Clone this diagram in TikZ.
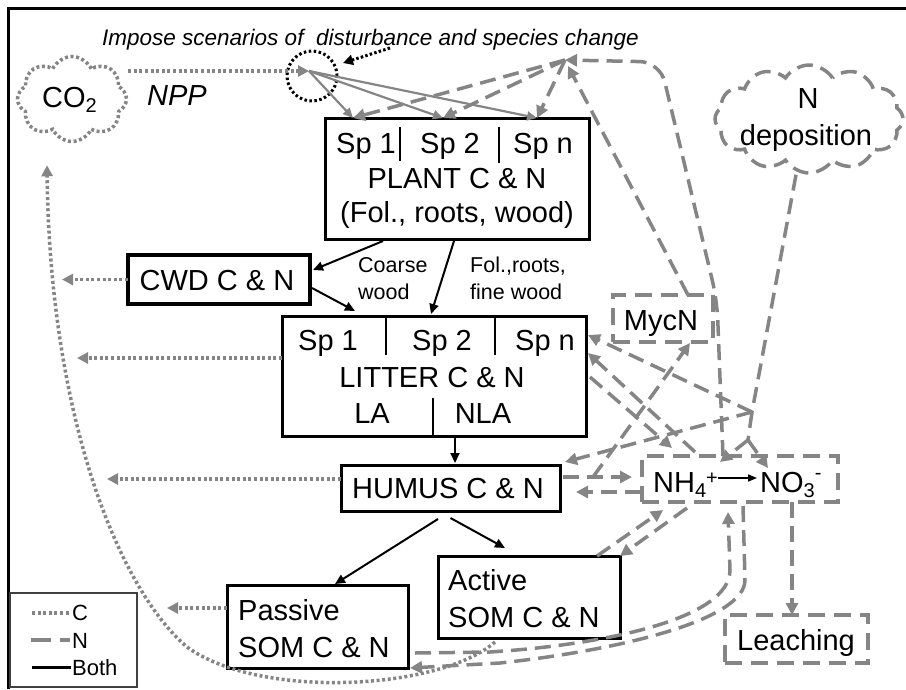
\documentclass[tikz,border=0pt]{standalone}
\usepackage{fontspec}
\setmainfont{Liberation Sans}
\usetikzlibrary{arrows.meta,shapes.symbols,calc}
\definecolor{ng}{RGB}{133,133,133}
\begin{document}
\begin{tikzpicture}[x=1pt,y=-1pt,
  bx/.style 2 args={draw=black,line width=3pt,minimum width=#1pt,minimum height=#2pt,inner sep=0pt,outer sep=0pt},
  nbx/.style 2 args={draw=ng,line width=3.5pt,dash pattern=on 17pt off 9pt,minimum width=#1pt,minimum height=#2pt,inner sep=0pt,outer sep=0pt},
  txt/.style={font=\fontsize{29}{34}\selectfont,inner sep=0pt,anchor=base},
  txtw/.style={txt,anchor=base west},
  smallt/.style={font=\fontsize{21.5}{26}\selectfont,inner sep=0pt,anchor=base west},
  cf/.style={draw=ng,line width=3.5pt,dash pattern=on 3pt off 2.6pt},
  cfa/.style={cf,-{Triangle[length=11pt,width=11pt]}},
  nf/.style={draw=ng,line width=3.5pt,dash pattern=on 16pt off 8pt},
  nfa/.style={nf,-{Triangle[length=12pt,width=12pt]}},
  bf/.style={draw=black,line width=2pt,-{Triangle[length=10pt,width=9pt]}},
  gs/.style={draw=ng,line width=2.2pt,-{Triangle[length=10pt,width=9pt]}},
  divline/.style={draw=black,line width=2.5pt}
]
\useasboundingbox (0,0) rectangle (906,689);
% outer frame
\draw[line width=3pt] (8,689) -- (8,8) -- (906,8);

% boxes
\node[bx={264}{121}] (plant) at (457,178.5) {};
\node[bx={182}{49},line width=4.5pt] (cwd) at (219,279.5) {};
\node[bx={304}{120}] (litter) at (434,376) {};
\node[bx={219}{46}] (humus) at (450.5,488) {};
\node[bx={181}{83}] (passive) at (317.5,626.5) {};
\node[bx={182}{82}] (active) at (529,597) {};
\node[nbx={100}{47}] (mycn) at (663,318.5) {};
\node[nbx={196}{46}] (nh) at (740,479) {};
\node[nbx={143}{48}] (leach) at (796.5,639) {};

% clouds and circle
\node[cloud,cloud puffs=8,cloud puff arc=130,cf,minimum width=109pt,minimum height=85pt,inner sep=0pt] (co2) at (72,99) {};
\node[cloud,cloud puffs=12,cloud puff arc=115,nf,minimum width=188pt,minimum height=108pt,inner sep=0pt] (ndep) at (809,119) {};
\node[circle,draw=black,line width=3pt,dash pattern=on 2.5pt off 2.5pt,minimum size=50pt,inner sep=0pt] (dist) at (312,76) {};

% dividers
\draw[divline] (400,127) -- (400,161);
\draw[divline] (499,127) -- (499,163);
\draw[divline] (386,316) -- (386,355);
\draw[divline] (495,316) -- (495,355);
\draw[divline] (433,398) -- (433,436);

% texts
\node[font=\fontsize{22.5}{27}\selectfont\itshape,inner sep=0pt,anchor=base west] (impose) at (102,45) {Impose scenarios of\ \ disturbance and species change};
\node[txtw] (co2t) at (42,107) {CO\raisebox{-5pt}{\fontsize{20}{20}\selectfont 2}};
\node[txtw,font=\fontsize{29}{34}\selectfont\itshape] (npp) at (147,105) {NPP};
\node[txt] (ndt) at (808,108) {N};
\node[txt] (ndt2) at (806,145) {deposition};

\node[txt] (p1) at (366,153) {Sp 1};
\node[txt] (p2) at (450,153) {Sp 2};
\node[txt] (p3) at (543,153) {Sp n};
\node[txt] (pl) at (457,188) {PLANT C \& N};
\node[txt] (pl2) at (457,222) {(Fol., roots, wood)};
\node[txt] (cwdt) at (217,290) {CWD C \& N};
\node[txt] (l1) at (328,350) {Sp 1};
\node[txt] (l2) at (442,350) {Sp 2};
\node[txt] (l3) at (545,350) {Sp n};
\node[txt] (lt) at (432,387) {LITTER C \& N};
\node[txt] (la) at (372,423) {LA};
\node[txt] (nla) at (483,423) {NLA};
\node[txt] (hu) at (448,498) {HUMUS C \& N};
\node[txtw] (pa1) at (238,620) {Passive};
\node[txtw] (pa2) at (238,657) {SOM C \& N};
\node[txtw] (ac1) at (448,590) {Active};
\node[txtw] (ac2) at (448,627) {SOM C \& N};
\node[txt] (myt) at (661,330) {MycN};
\node[txtw] (nh4t) at (653,492) {NH\raisebox{-5pt}{\fontsize{20}{20}\selectfont 4}\raisebox{7.5pt}{\fontsize{20}{20}\selectfont +}};
\node[txtw] (no3t) at (760,492) {NO\raisebox{-5pt}{\fontsize{20}{20}\selectfont 3}\raisebox{13pt}{\fontsize{20}{20}\selectfont -}};
\node[txt] (lea) at (796,650) {Leaching};
\node[smallt] (cs1) at (358,272) {Coarse};
\node[smallt] (cs2) at (358,299) {wood};
\node[smallt] (fs1) at (470,272) {Fol.,roots,};
\node[smallt] (fs2) at (470,299) {fine wood};

% coordinates
\coordinate (fan) at (309,71);
\coordinate (up) at (565,60);
\coordinate (s1) at (353,118);
\coordinate (s2) at (443,118);
\coordinate (s3) at (537,118);
\coordinate (J) at (752,412);
\coordinate (K) at (748,440);
\coordinate (cbend) at (187,647);
\coordinate (impa) at (390,48);

% black flows
\draw[bf] ($(plant.south)+(-74,2)$) -- ($(cwd.east)+(3,-9.5)$);
\draw[bf] ($(cwd.east)+(2,8.5)$) -- ($(litter.north)+(-79,-5)$);
\draw[bf] ($(plant.south)+(-3,2)$) -- ($(litter.north)+(-3,-2)$);
\draw[bf] ($(litter.south)+(21,2)$) -- ($(humus.north)+(4.5,-2)$);
\draw[bf] ($(humus.south)+(-12.5,8)$) -- ($(passive.north)+(17.5,-1)$);
\draw[bf] ($(humus.south)+(0,7)$) -- ($(active.north)+(-24,-8)$);
\draw[draw=black,line width=1.5pt,-{Triangle[length=9pt,width=7pt]}] ($(nh4t.base east)+(0,-14)$) -- ($(no3t.base west)+(-3,-14)$);

% dotted black
\draw[draw=black,line width=3pt,dash pattern=on 2.5pt off 2.2pt,-{Triangle[length=10pt,width=10pt]}] (impa) -- ($(dist.center)+(31,-13)$);

% C flows (dotted gray)
\draw[cfa] (co2.east |- fan) -- (fan);
\draw[cfa] (cwd.west) -- (62,279.5);
\draw[cfa] ($(litter.west)+(0,-18)$) -- (77,358);
\draw[cfa] ($(humus.west)+(0,-9)$) -- (107,479);
\draw[cfa] ($(passive.west)+(0,-18.5)$) -- (167,608);
\draw[cfa] ($(active.south west)+(57,4)$) .. controls (440,690) and (260,700) .. (cbend) .. controls (120,590) and (50,420) .. ($(co2.south)+(-25,22)$);

% NPP solid gray
\draw[gs] (fan) -- (s1);
\draw[gs] (fan) -- (s2);
\draw[gs] (fan) -- (s3);

% N flows (dashed gray)
\draw[nfa] (up) -- (s1);
\draw[nfa] (up) -- (s2);
\draw[nfa] (up) -- (s3);
\draw[nfa,rounded corners=20pt] ($(nh.north)+(-17,0)$) -- (717,300) -- (660,62) -- (up);
\draw[nfa] ($(mycn.north)+(25,0)$) -- ($(up)+(3,6)$);
\draw[nf] ($(ndep.south)+(-13,0)$) -- (J);
\draw[nfa] (J) -- ($(litter.east)+(2,-41)$);
\draw[nfa] (J) -- ($(humus.north east)+(5,-3)$);
\draw[nf] (J) -- (K);
\draw[nfa] (K) -- ($(nh.north)+(-20,6)$);
\draw[nfa] (K) -- ($(nh.north)+(28,12)$);
\draw[nfa] ($(nh.north west)+(53,-4)$) -- ($(litter.east)+(2,-23)$);
\draw[nfa] ($(litter.east)+(4,1)$) -- ($(nh.north west)+(30,-8)$);
\draw[nfa] ($(humus.east)+(3,-11)$) -- ($(nh.west)+(-10,-2)$);
\draw[nfa] ($(nh.west)+(-1,13)$) -- ($(humus.east)+(16,4)$);
\draw[nfa] ($(humus.east)+(33,-11)$) -- ($(mycn.south)+(27,1)$);
\draw[nfa] ($(active.north east)+(-23,0)$) -- ($(nh.south)+(-77,8)$);
\draw[nfa] ($(nh.south)+(-53,6)$) -- (active.north east);
\draw[nfa] ($(passive.east)+(7,26.5)$) -- (490,652) .. controls (600,645) and (730,620) .. (730,570) -- ($(nh.south)+(-12,10)$);
\draw[nfa] ($(nh.south)+(3,4)$) -- (745,580) .. controls (745,620) and (620,650) .. (500,663) -- ($(passive.east)+(2,41.5)$);
\draw[nfa] ($(nh.south)+(52,0)$) -- ($(leach.north)+(-4.5,0)$);

% legend
\node[draw=black!75,line width=1.2pt,minimum width=127pt,minimum height=94pt,inner sep=0pt] (leg) at (73.5,640) {};
\draw[cf] (32,613) -- (70,613);
\draw[draw=ng,line width=3.5pt,dash pattern=on 20pt off 9pt] (31,640) -- (70,640);
\draw[draw=black,line width=3pt] (32,667) -- (71,667);
\node[anchor=base west,font=\fontsize{22}{26}\selectfont,inner sep=0pt] (legc) at (72,620) {C};
\node[anchor=base west,font=\fontsize{22}{26}\selectfont,inner sep=0pt] (legn) at (72,648) {N};
\node[anchor=base west,font=\fontsize{22}{26}\selectfont,inner sep=0pt] (legb) at (72,675) {Both};
\end{tikzpicture}
\end{document}
